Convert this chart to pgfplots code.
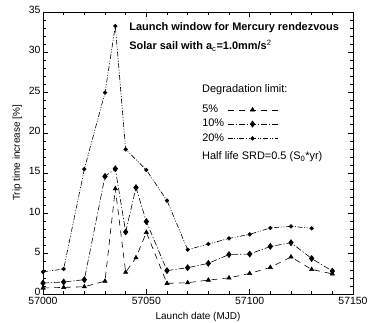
\documentclass[border=0pt]{standalone}
\usepackage{pgfplots}
\pgfplotsset{compat=1.18}
\usepackage{fontspec}
\setmainfont{Liberation Sans}

% line styles of the three degradation limits
\tikzset{
  lim5/.style={black, line width=0.6bp, dash pattern=on 6bp off 5bp,
    mark=triangle*, mark size=2.4bp, mark options={solid}},
  lim10/.style={black, line width=0.6bp, dash pattern=on 6bp off 2bp on 1.2bp off 2bp,
    mark=diamond*, mark size=3bp, mark options={solid}},
  lim20/.style={black, line width=0.6bp, dash pattern=on 5bp off 1.6bp on 1bp off 1.6bp on 1bp off 1.6bp,
    mark=*, mark size=1.8bp, mark options={solid}},
}

\begin{document}
\begin{tikzpicture}
\begin{axis}[
  at={(0,0)}, anchor=south west,
  scale only axis, width=310bp, height=282bp,
  xmin=57000, xmax=57150, ymin=0, ymax=35,
  xtick={57000,57050,57100,57150},
  minor xtick={57000,57010,...,57150},
  ytick={0,5,...,35},
  minor ytick={0,1,...,35},
  tick align=inside, tick pos=both,
  xticklabel pos=lower, yticklabel pos=left,
  major tick length=5bp, minor tick length=3bp,
  every tick/.style={black, line width=0.6bp},
  axis line style={line width=0.9bp},
  scaled x ticks=false,
  x tick label style={/pgf/number format/set thousands separator={}, font=\fontsize{10.5}{12}\selectfont, yshift=0.5bp},
  y tick label style={font=\fontsize{10.5}{12}\selectfont, xshift=1bp, yshift=2bp},
  /pgf/number format/assume math mode=true,
  xlabel={Launch date (MJD)},
  ylabel={Trip time increase [\%]},
  label style={font=\fontsize{10}{12}\selectfont},
  xlabel style={yshift=-1bp},
  ylabel style={yshift=0bp},
  legend plot pos=right,
  legend cell align=left,
  legend image code/.code={
    \draw[mark repeat=2, mark phase=2, #1] plot coordinates {(0bp,0bp) (25bp,0bp) (50bp,0bp)};
  },
  legend style={draw=none, fill=none, inner sep=0pt, at={(rel axis cs:0.510,0.676)}, anchor=north west,
    font=\fontsize{11}{13}\selectfont, row sep=1.8bp, column sep=2bp,
    nodes={inner sep=1bp, text height=8bp, text depth=2.5bp}},
]

% 5 % degradation limit
\addplot[lim5] coordinates {
  (57000,0.74) (57010,0.82) (57020,0.9) (57030,1.6) (57035,13.07)
  (57040,2.7) (57045,4.5) (57050,7.65) (57060,1.32) (57070,1.4)
  (57080,1.73) (57090,2.0) (57100,2.55) (57110,3.3) (57120,4.6)
  (57130,3.05) (57140,2.5)
};
\addlegendentry{5\%}

% 10 % degradation limit
\addplot[lim10] coordinates {
  (57000,1.36) (57010,1.49) (57020,1.78) (57030,14.6) (57035,15.55)
  (57040,7.7) (57045,13.2) (57050,9.0) (57060,2.9) (57070,3.27)
  (57080,3.8) (57090,4.9) (57100,4.96) (57110,5.9) (57120,6.37)
  (57130,4.4) (57140,2.85)
};
\addlegendentry{10\%}

% 20 % degradation limit
\addplot[lim20] coordinates {
  (57000,2.75) (57010,3.1) (57020,15.5) (57030,25.0) (57035,33.25)
  (57040,17.95) (57050,15.4) (57060,11.6) (57070,5.5) (57080,6.2)
  (57090,6.9) (57100,7.4) (57110,8.2) (57120,8.4) (57130,8.15)
};
\addlegendentry{20\%}

\node[anchor=west, inner sep=0pt, font=\bfseries\fontsize{11}{13}\selectfont]
  at (rel axis cs:0.278,0.943) {Launch window for Mercury rendezvous};
\node[anchor=west, inner sep=0pt, font=\bfseries\fontsize{11}{13}\selectfont]
  at (rel axis cs:0.278,0.879) {Solar sail with a$_{\mathrm{c}}$=1.0mm/s$^{\mathrm{2}}$};
\node[anchor=west, inner sep=0pt, font=\fontsize{11}{13}\selectfont]
  at (rel axis cs:0.513,0.723) {Degradation limit:};
\node[anchor=west, inner sep=0pt, font=\fontsize{11}{13}\selectfont]
  at (rel axis cs:0.513,0.486) {Half life SRD=0.5 (S$_{\mathrm{0}}$*yr)};
\end{axis}
\pgfresetboundingbox
\path[use as bounding box] (-43bp,-29bp) rectangle (327bp,282bp+12bp);
\end{tikzpicture}
\end{document}
